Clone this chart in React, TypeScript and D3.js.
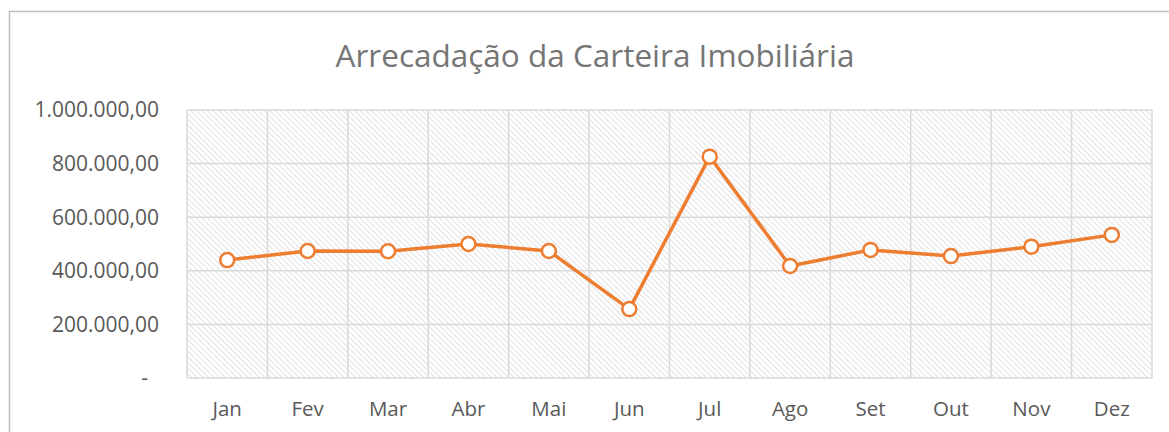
import React from "react";
import * as d3 from "d3";

const months = ["Jan", "Fev", "Mar", "Abr", "Mai", "Jun", "Jul", "Ago", "Set", "Out", "Nov", "Dez"];
const values = [440000, 474000, 473000, 500000, 474000, 257000, 826000, 418000, 478000, 455000, 490000, 534000];
const yTicks = [0, 200000, 400000, 600000, 800000, 1000000];
const title = "Arrecadação da Carteira Imobiliária";

const W = 1169;
const H = 432;
const M = { left: 187, right: 1152, top: 110, bottom: 378 };

function fmt(v: number): string {
  if (v === 0) return "-";
  const s = d3.format(",.2f")(v);
  return s.replace(/,/g, "#").replace(/\./g, ",").replace(/#/g, ".");
}

export default function App() {
  const x = d3.scaleBand<string>().domain(months).range([M.left, M.right]);
  const y = d3.scaleLinear().domain([0, 1000000]).range([M.bottom, M.top]);
  const line = d3
    .line<number>()
    .x((_, i) => (x(months[i]) as number) + x.bandwidth() / 2)
    .y((d) => y(d));
  const font = "'Open Sans', sans-serif";
  return (
    <svg width={W} height={H} style={{ position: "absolute", left: 0, top: 0 }}>
      <defs>
        <pattern id="hatch" patternUnits="userSpaceOnUse" width="4" height="4" patternTransform="rotate(-45)">
          <rect width="4" height="4" fill="#ffffff" />
          <line x1="0" y1="0" x2="0" y2="4" stroke="#dadada" strokeWidth="1.6" />
        </pattern>
      </defs>
      <rect x={0} y={0} width={W} height={H} fill="#fff" />
      <path d={`M9.5,${H} L9.5,11.5 L${W},11.5`} fill="none" stroke="#bcbcbc" strokeWidth={1.5} />
      <text x={595} y={67} textAnchor="middle" fontFamily={font} fontSize={31.5} fill="#757575">
        {title}
      </text>
      <rect x={M.left} y={M.top} width={M.right - M.left} height={M.bottom - M.top} fill="url(#hatch)" />
      {yTicks.map((t) => (
        <line key={"h" + t} x1={M.left} x2={M.right} y1={y(t)} y2={y(t)} stroke="#d9d9d9" strokeWidth={1.5} />
      ))}
      {[...months.map((m) => x(m) as number), M.right].map((px, i) => (
        <line key={"v" + i} x1={px} x2={px} y1={M.top} y2={M.bottom} stroke="#d9d9d9" strokeWidth={1.5} />
      ))}
      {yTicks.map((t) => (
        <text
          key={"yl" + t}
          x={t === 0 ? 148 : 159}
          y={y(t)}
          dy="0.35em"
          textAnchor="end"
          fontFamily={font}
          fontSize={21}
          fill="#595959"
        >
          {fmt(t)}
        </text>
      ))}
      {months.map((m) => (
        <text
          key={"xl" + m}
          x={(x(m) as number) + x.bandwidth() / 2}
          y={416}
          textAnchor="middle"
          fontFamily={font}
          fontSize={20.5}
          fill="#595959"
        >
          {m}
        </text>
      ))}
      <path d={line(values) || ""} fill="none" stroke="#ED7D31" strokeWidth={3.5} strokeLinejoin="round" />
      {values.map((v, i) => (
        <circle
          key={"c" + i}
          cx={(x(months[i]) as number) + x.bandwidth() / 2}
          cy={y(v)}
          r={7}
          fill="#fff"
          stroke="#ED7D31"
          strokeWidth={2.5}
        />
      ))}
    </svg>
  );
}
